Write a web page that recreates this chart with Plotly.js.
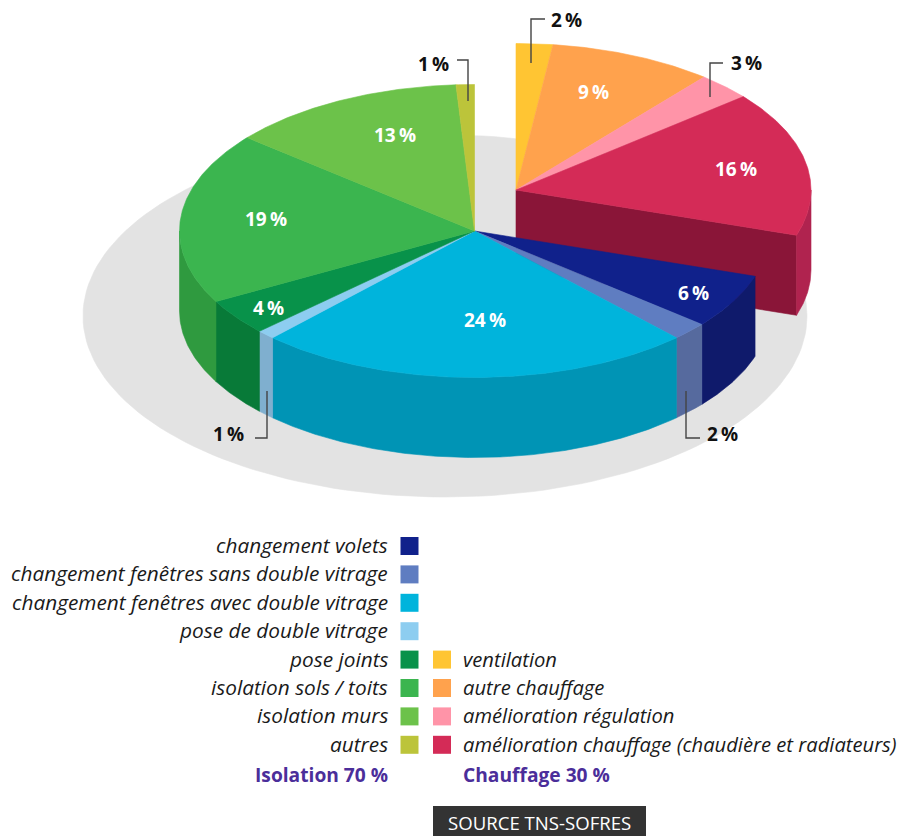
<!DOCTYPE html>
<html><head><meta charset="utf-8">
<script src="https://cdn.plot.ly/plotly-3.0.1.min.js"></script>
<style>html,body{margin:0;padding:0;background:#fff}</style></head>
<body><div id="chart" style="width:901px;height:836px"></div>
<script>
// Data: clockwise from 12 o'clock
const categories = ["ventilation","autre chauffage","amélioration régulation","amélioration chauffage (chaudière et radiateurs)","changement volets","changement fenêtres sans double vitrage","changement fenêtres avec double vitrage","pose de double vitrage","pose joints","isolation sols / toits","isolation murs","autres"];
const values = [2,9,3,16,6,2,24,1,4,19,13,1];
const heatingCount = 4;
const topColors = ["#ffc533","#ffa24d","#ff94a8","#d42b57","#10218b","#5f7dc1","#00b4dc","#8dcdf0","#08924a","#3bb54f","#6cc24a","#bcc43a"];
const sideColors = ["#ffc533","#ffa24d","#ff94a8","#b0234f","#0f1a6b","#566a9e","#0094b5","#7fafcf","#087a38","#2f9a3f","#6cc24a","#bcc43a"];
const cutColor = "#8a1538";
const groupTitles = ["Isolation 70 %","Chauffage 30 %"];

// Layout constants (pixels)
const C = {x:474.5,y:231}, H = {x:516,y:190}, RX=295, RY=146.5, DEPTH=80;
const SH = {x:445,y:316,rx:362,ry:181};
const labelPos = [[566,20,"k"],[593,92,"w"],[746,63,"k"],[736,169,"w"],[693,293,"w"],[722,434,"k"],[485,320,"w"],[228,434,"k"],[268,308,"w"],[266,219,"w"],[395,135,"w"],[433,64,"k"]];
const leaders = ["M531 63V19H545","M710 97V63H723","M686 391V438H700","M267 391V438H255","M468 101V60H457"];
const legendFont = "'Open Sans', 'Noto Sans', sans-serif";

const pt = (c,deg,dy=0) => {const a=deg*Math.PI/180; return [c.x+RX*Math.sin(a), c.y-RY*Math.cos(a)+dy];};
const arc = (c,a0,a1,dy=0) => {const n=Math.max(2,Math.ceil(Math.abs(a1-a0))*2), o=[]; for(let i=0;i<=n;i++) o.push(pt(c,a0+(a1-a0)*i/n,dy)); return o;};
const poly = (pts,color) => ({type:"scatter",mode:"lines",x:pts.map(p=>p[0]),y:pts.map(p=>p[1]),fill:"toself",fillcolor:color,line:{color:color,width:0.6},hoverinfo:"skip",showlegend:false});

const traces = [];
// shadow
{const p=[];for(let i=0;i<=360;i+=2){const a=i*Math.PI/180;p.push([SH.x+SH.rx*Math.cos(a),SH.y+SH.ry*Math.sin(a)]);}
 traces.push(poly(p,"#e3e3e3"));}

const total = values.reduce((a,b)=>a+b,0);
let cum=0; const slices = values.map((v,i)=>{const s={i,a0:cum/total*360,a1:(cum+v)/total*360,c:i<heatingCount?H:C};cum+=v;return s;});

// heating group: cut face, then outer side
const heatEnd = slices[heatingCount-1].a1;
const he = pt(H,heatEnd);
traces.push(poly([[H.x,H.y],he,[he[0],he[1]+DEPTH],[H.x,H.y+DEPTH],[H.x,H.y]],cutColor));
function drawSide(s){
  const a0=Math.max(s.a0,90), a1=Math.min(s.a1,270);
  if(a1<=a0) return;
  const top=arc(s.c,a0,a1), bot=arc(s.c,a1,a0,DEPTH);
  traces.push(poly(top.concat(bot,[top[0]]),sideColors[s.i]));
}
function drawTop(s){
  const p=[[s.c.x,s.c.y]].concat(arc(s.c,s.a0,s.a1),[[s.c.x,s.c.y]]);
  traces.push(poly(p,topColors[s.i]));
}
slices.slice(0,heatingCount).forEach(drawSide);
slices.slice(0,heatingCount).forEach(drawTop);
slices.slice(heatingCount).forEach(drawSide);
slices.slice(heatingCount).forEach(drawTop);

// legend swatches
const rowY = r => 546 + r*28.4;
const leftCol = slices.slice(heatingCount).map(s=>s.i);
const rightCol = slices.slice(0,heatingCount).map(s=>s.i);
traces.push({type:"scatter",mode:"markers",x:leftCol.map(()=>409.5).concat(rightCol.map(()=>442)),
  y:leftCol.map((_,r)=>rowY(r)).concat(rightCol.map((_,r)=>rowY(r+4))),
  marker:{symbol:"square",size:18,color:leftCol.concat(rightCol).map(i=>topColors[i]),line:{width:0}},hoverinfo:"skip",showlegend:false});

const ann = [];
values.forEach((v,i)=>{const [x,y,k]=labelPos[i];
  ann.push({x,y,xref:"x",yref:"y",text:"<b>"+v+"\u2009%</b>",showarrow:false,xanchor:"center",yanchor:"middle",
    font:{family:legendFont,size:19,color:k==="w"?"#ffffff":"#111111"}});});
const legItem=(text,x,y,anchor,size)=>ann.push({x,y,xref:"x",yref:"y",text:"<i>"+text+"</i>",showarrow:false,xanchor:anchor,yanchor:"middle",
    font:{family:legendFont,size:size,color:"#1a1a1a"}});
leftCol.forEach((i,r)=>legItem(categories[i],390,rowY(r)-1,"right",20.8));
rightCol.forEach((i,r)=>legItem(categories[i],461,rowY(r+4)-1,"left",20.2));
ann.push({x:389.5,y:774,xref:"x",yref:"y",text:"<b>"+groupTitles[0]+"</b>",showarrow:false,xanchor:"right",yanchor:"middle",font:{family:legendFont,size:19.2,color:"#4b2e9a"}});
ann.push({x:461,y:774,xref:"x",yref:"y",text:"<b>"+groupTitles[1]+"</b>",showarrow:false,xanchor:"left",yanchor:"middle",font:{family:legendFont,size:19.2,color:"#4b2e9a"}});
ann.push({x:539.5,y:822,xref:"x",yref:"y",text:"SOURCE TNS-SOFRES",showarrow:false,xanchor:"center",yanchor:"middle",font:{family:legendFont,size:18.6,color:"#ffffff"}});

const shapes = leaders.map(d=>({type:"path",path:d,xref:"x",yref:"y",line:{color:"#444444",width:1.4},layer:"above"}));
shapes.push({type:"rect",xref:"x",yref:"y",x0:433,x1:646,y0:806,y1:836,fillcolor:"#333333",line:{width:0},layer:"below"});

Plotly.newPlot("chart",traces,{
  width:901,height:836,autosize:false,margin:{l:0,r:0,t:0,b:0},
  paper_bgcolor:"#ffffff",plot_bgcolor:"rgba(0,0,0,0)",showlegend:false,
  xaxis:{range:[0,901],visible:false,fixedrange:true},
  yaxis:{range:[836,0],visible:false,fixedrange:true},
  annotations:ann,shapes:shapes
},{displayModeBar:false,staticPlot:true});
</script></body></html>
